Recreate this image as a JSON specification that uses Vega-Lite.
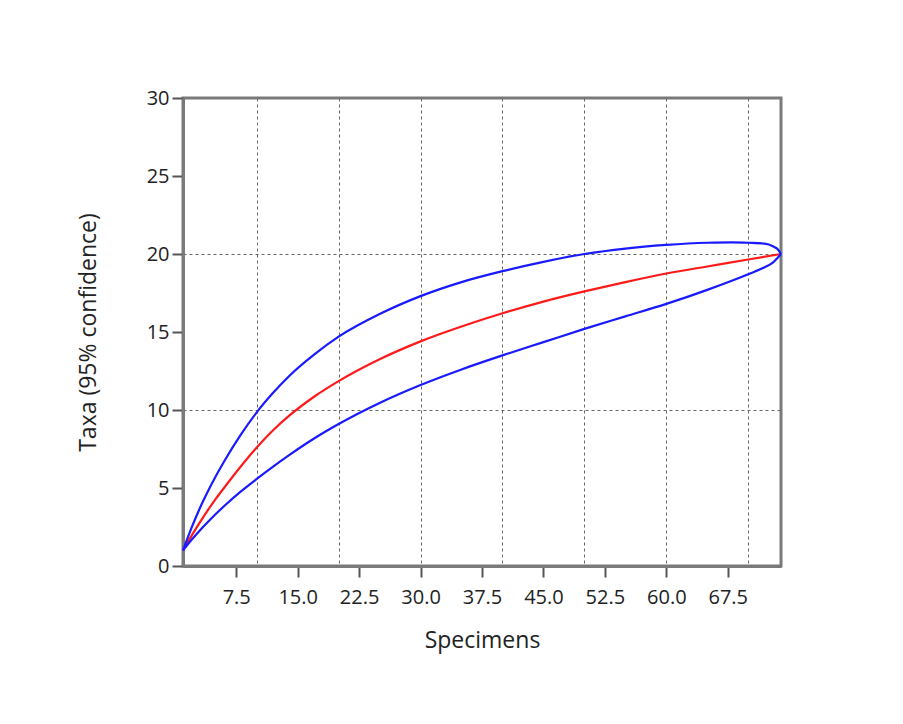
{
  "$schema": "https://vega.github.io/schema/vega-lite/v6.json",
  "width": 598,
  "height": 468,
  "autosize": {"type": "none"},
  "padding": {"left": 183, "top": 98, "right": 122, "bottom": 158},
  "background": "white",
  "config": {
    "font": "Open Sans",
    "view": {"stroke": "#7a7a7a", "strokeWidth": 3},
    "axis": {
      "labelFontSize": 20,
      "titleFontSize": 23,
      "labelColor": "#222",
      "titleColor": "#222",
      "titleFontWeight": "normal",
      "tickColor": "#555",
      "tickSize": 11,
      "tickWidth": 2,
      "domainColor": "#7a7a7a",
      "domainWidth": 3,
      "gridColor": "#666666",
      "gridDash": [3, 3],
      "gridWidth": 1
    }
  },
  "data": {
    "values": [
      {"series": "mean", "specimens": 1, "taxa": 1},
      {"series": "mean", "specimens": 2, "taxa": 1.9},
      {"series": "mean", "specimens": 3, "taxa": 2.75},
      {"series": "mean", "specimens": 4, "taxa": 3.55},
      {"series": "mean", "specimens": 5, "taxa": 4.3},
      {"series": "mean", "specimens": 6, "taxa": 5.0},
      {"series": "mean", "specimens": 8, "taxa": 6.35},
      {"series": "mean", "specimens": 10, "taxa": 7.6},
      {"series": "mean", "specimens": 12, "taxa": 8.7},
      {"series": "mean", "specimens": 14, "taxa": 9.65},
      {"series": "mean", "specimens": 17, "taxa": 10.85},
      {"series": "mean", "specimens": 20, "taxa": 11.85},
      {"series": "mean", "specimens": 25, "taxa": 13.25},
      {"series": "mean", "specimens": 30, "taxa": 14.4},
      {"series": "mean", "specimens": 35, "taxa": 15.35},
      {"series": "mean", "specimens": 40, "taxa": 16.2},
      {"series": "mean", "specimens": 45, "taxa": 16.95},
      {"series": "mean", "specimens": 50, "taxa": 17.6},
      {"series": "mean", "specimens": 55, "taxa": 18.2},
      {"series": "mean", "specimens": 60, "taxa": 18.75},
      {"series": "mean", "specimens": 65, "taxa": 19.2},
      {"series": "mean", "specimens": 70, "taxa": 19.65},
      {"series": "mean", "specimens": 74, "taxa": 20},
      {"series": "upper", "specimens": 1, "taxa": 1},
      {"series": "upper", "specimens": 2, "taxa": 2.39},
      {"series": "upper", "specimens": 3, "taxa": 3.64},
      {"series": "upper", "specimens": 4, "taxa": 4.74},
      {"series": "upper", "specimens": 5, "taxa": 5.75},
      {"series": "upper", "specimens": 6, "taxa": 6.68},
      {"series": "upper", "specimens": 8, "taxa": 8.37},
      {"series": "upper", "specimens": 10, "taxa": 9.85},
      {"series": "upper", "specimens": 12, "taxa": 11.1},
      {"series": "upper", "specimens": 14, "taxa": 12.2},
      {"series": "upper", "specimens": 17, "taxa": 13.55},
      {"series": "upper", "specimens": 20, "taxa": 14.7},
      {"series": "upper", "specimens": 25, "taxa": 16.15},
      {"series": "upper", "specimens": 30, "taxa": 17.3},
      {"series": "upper", "specimens": 35, "taxa": 18.2},
      {"series": "upper", "specimens": 40, "taxa": 18.9},
      {"series": "upper", "specimens": 45, "taxa": 19.5},
      {"series": "upper", "specimens": 50, "taxa": 20.0},
      {"series": "upper", "specimens": 55, "taxa": 20.35},
      {"series": "upper", "specimens": 60, "taxa": 20.58},
      {"series": "upper", "specimens": 65, "taxa": 20.72},
      {"series": "upper", "specimens": 68, "taxa": 20.75},
      {"series": "upper", "specimens": 70, "taxa": 20.72},
      {"series": "upper", "specimens": 72, "taxa": 20.66},
      {"series": "upper", "specimens": 73, "taxa": 20.5},
      {"series": "upper", "specimens": 73.6, "taxa": 20.3},
      {"series": "upper", "specimens": 74, "taxa": 20},
      {"series": "lower", "specimens": 1, "taxa": 1},
      {"series": "lower", "specimens": 2, "taxa": 1.65},
      {"series": "lower", "specimens": 3, "taxa": 2.25},
      {"series": "lower", "specimens": 4, "taxa": 2.8},
      {"series": "lower", "specimens": 5, "taxa": 3.33},
      {"series": "lower", "specimens": 6, "taxa": 3.83},
      {"series": "lower", "specimens": 8, "taxa": 4.75},
      {"series": "lower", "specimens": 10, "taxa": 5.58},
      {"series": "lower", "specimens": 12, "taxa": 6.37},
      {"series": "lower", "specimens": 14, "taxa": 7.12},
      {"series": "lower", "specimens": 17, "taxa": 8.17},
      {"series": "lower", "specimens": 20, "taxa": 9.1},
      {"series": "lower", "specimens": 25, "taxa": 10.45},
      {"series": "lower", "specimens": 30, "taxa": 11.6},
      {"series": "lower", "specimens": 35, "taxa": 12.6},
      {"series": "lower", "specimens": 40, "taxa": 13.5},
      {"series": "lower", "specimens": 45, "taxa": 14.35},
      {"series": "lower", "specimens": 50, "taxa": 15.2},
      {"series": "lower", "specimens": 55, "taxa": 16.0},
      {"series": "lower", "specimens": 60, "taxa": 16.8},
      {"series": "lower", "specimens": 65, "taxa": 17.7},
      {"series": "lower", "specimens": 70, "taxa": 18.7},
      {"series": "lower", "specimens": 72, "taxa": 19.15},
      {"series": "lower", "specimens": 73, "taxa": 19.45},
      {"series": "lower", "specimens": 74, "taxa": 20}
    ]
  },
  "resolve": {"axis": {"x": "independent", "y": "independent"}},
  "layer": [
    {
      "mark": {"type": "point", "opacity": 0},
      "encoding": {
        "x": {
          "field": "specimens", "type": "quantitative",
          "scale": {"domain": [1, 74], "nice": false, "zero": false},
          "axis": {"orient": "bottom", "values": [10, 20, 30, 40, 50, 60, 70], "grid": true, "labels": false, "ticks": false, "domain": false, "title": null}
        },
        "y": {
          "field": "taxa", "type": "quantitative",
          "scale": {"domain": [0, 30], "nice": false, "zero": false},
          "axis": {"orient": "left", "values": [10, 20], "grid": true, "labels": false, "ticks": false, "domain": false, "title": null}
        }
      }
    },
    {
      "mark": {"type": "line", "interpolate": "monotone", "strokeWidth": 2.2},
      "encoding": {
        "x": {
          "field": "specimens", "type": "quantitative",
          "axis": {"orient": "bottom", "values": [7.5, 15, 22.5, 30, 37.5, 45, 52.5, 60, 67.5], "format": ".1f", "grid": false, "title": "Specimens", "labelPadding": 10, "titlePadding": 22}
        },
        "y": {
          "field": "taxa", "type": "quantitative",
          "axis": {"orient": "left", "values": [0, 5, 10, 15, 20, 25, 30], "grid": false, "title": "Taxa (95% confidence)", "labelPadding": 3, "titlePadding": 46}
        },
        "color": {
          "field": "series", "type": "nominal",
          "scale": {"domain": ["lower", "mean", "upper"], "range": ["#1a1aff", "#ff1a1a", "#1a1aff"]},
          "legend": null
        }
      }
    }
  ]
}
